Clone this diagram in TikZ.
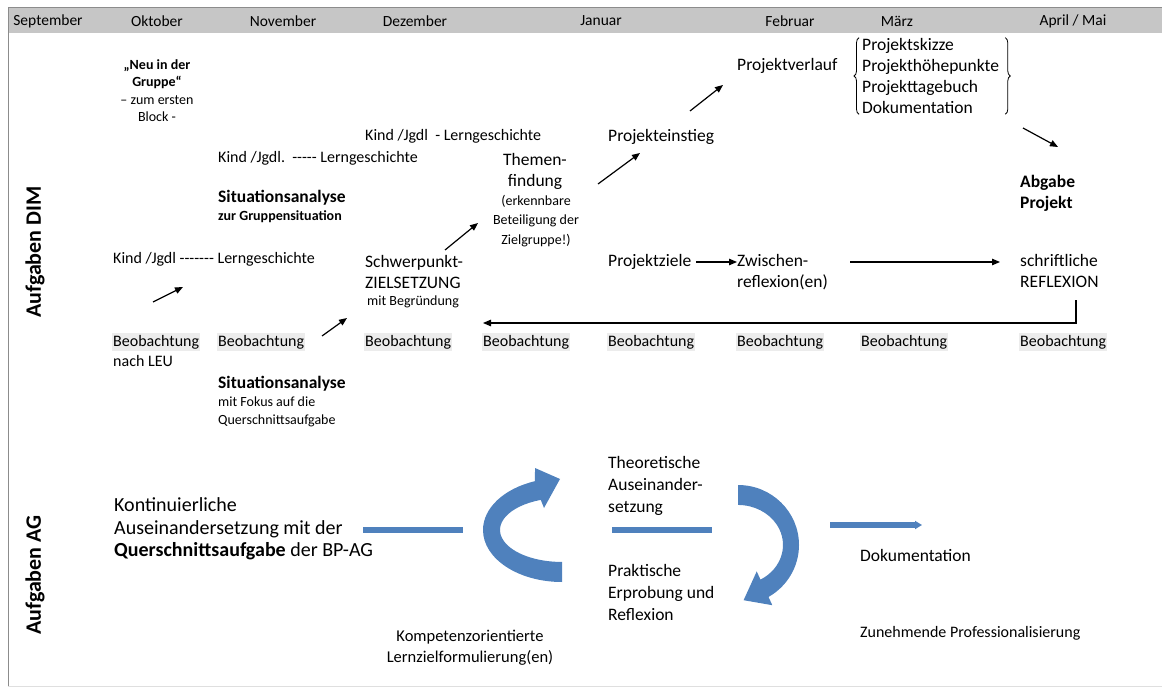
\documentclass[tikz,border=0pt]{standalone}
\usepackage{fontspec}
\setmainfont{Carlito}
\usetikzlibrary{arrows.meta,decorations.pathreplacing}
\definecolor{agblue}{RGB}{79,129,189}
\newcommand\fsmall{\fontsize{14}{17.5}\selectfont}
\newcommand\fnorm{\fontsize{16}{20}\selectfont}
\newcommand\flarge{\fontsize{17.5}{21.3}\selectfont}

\begin{document}
\begin{tikzpicture}[x=1pt,y=-1pt,
    txt/.style={anchor=west, inner sep=0pt, align=left, font=\fnorm},
    txtL/.style={txt, font=\flarge},
    txtS/.style={txt, font=\fsmall},
    obs/.style={anchor=west, fill=gray!15, inner xsep=1pt, inner ysep=2pt, font=\fnorm},
    month/.style={inner sep=0pt, font=\fontsize{15.5}{18}\selectfont},
    lane/.style={rotate=90, inner sep=0pt, font=\fontsize{22}{26}\selectfont\bfseries},
    arr/.style={line width=1.2pt, -{Triangle[length=8pt,width=6.5pt]}},
    bar/.style={agblue, line width=5.5pt},
    brc/.style={line width=0.8pt, decorate, decoration={brace, amplitude=5pt}}]
    \useasboundingbox (0,0) rectangle (1162,695);

    % Frame and month bar
    \fill[gray!45] (8,8) rectangle (1162,33);
    \draw[black!45, line width=1pt] (1162,8) -- (8,8) -- (8,686);
    \draw[gray!25] (8,686) -- (1162,686);
    \foreach \x/\m [count=\i] in {48/September,157/Oktober,283/November,415/Dezember,
        601/Januar,790/Februar,897/März,1073/{April / Mai}} {
        \node[month] (m\i) at (\x,21) {\m};
    }

    % Lanes
    \node[lane] (dim) at (35,252) {Aufgaben DIM};
    \node[lane] (ag) at (35,575) {Aufgaben AG};

    % Aufgaben DIM
    \node[txtS, anchor=north, align=center] (neu) at (157,59)
        {\textbf{„Neu in der}\\\textbf{Gruppe“}\\– zum ersten\\Block -};
    \node[txt] (kj1) at (365,136) {Kind /Jgdl\ \ - Lerngeschichte};
    \node[txt] (kj2) at (218,158) {Kind /Jgdl.\ \ -{}-{}-{}-{}- Lerngeschichte};
    \node[txtL, font=\flarge\bfseries] (sa1) at (218,198) {Situationsanalyse};
    \node[txtS, font=\fsmall\bfseries] (sa1b) at (218,217) {zur Gruppensituation};
    \node[txt] (kj3) at (113,259) {Kind /Jgdl\ -{}-{}-{}-{}-{}-{}- Lerngeschichte};

    \node[txtL, anchor=north, align=center] (thm) at (535,152.7) {Themen-\\findung};
    \node[txtS, anchor=north, align=center, font=\fontsize{14}{19.5}\selectfont] (thmb) at (536,195)
        {(erkennbare\\Beteiligung der\\Zielgruppe!)};
    \node[txtL, anchor=north west] (schw) at (365,254.7) {Schwerpunkt-\\ZIELSETZUNG};
    \node[txtS] (schwb) at (367,302) {mit Begründung};

    \node[txtL] (pe) at (608,137) {Projekteinstieg};
    \node[txtL] (pv) at (737,66) {Projektverlauf};
    \node[txtL, anchor=north west] (lst) at (862,37.7)
        {Projektskizze\\Projekthöhepunkte\\Projekttagebuch\\Dokumentation};
    \draw[brc] ([xshift=-3pt]lst.south west) -- ([xshift=-3pt]lst.north west);
    \draw[brc] ([xshift=6pt]lst.north east) -- ([xshift=6pt]lst.south east);
    \node[txtL, anchor=north west, font=\flarge\bfseries] (abg) at (1020,174.7) {Abgabe\\Projekt};

    \node[txtL] (pz) at (608,262) {Projektziele};
    \node[txtL, anchor=north west] (zw) at (737,253.7) {Zwischen-\\reflexion(en)};
    \node[txtL, anchor=north west] (sr) at (1020,253.7) {schriftliche\\REFLEXION};

    % Beobachtung row
    \foreach \x [count=\i] in {113,218,365,483,608,737,861,1020} {
        \node[obs] (b\i) at (\x-1,342) {Beobachtung};
    }
    \node[txt] (leu) at (113,361) {nach LEU};
    \node[txtL, font=\flarge\bfseries] (sa2) at (218,384) {Situationsanalyse};
    \node[txtS, anchor=north west] (sa2b) at (218,397) {mit Fokus auf die\\Querschnittsaufgabe};

    % Arrows
    \coordinate (a1s) at (153,302); \coordinate (a1e) at (183,287);
    \coordinate (a2s) at (322,336); \coordinate (a2e) at (347,318);
    \coordinate (a3s) at (445,250); \coordinate (a3e) at (478,223);
    \coordinate (a4s) at (598,184); \coordinate (a4e) at (640,153);
    \coordinate (a5s) at (690,111); \coordinate (a5e) at (723,85);
    \coordinate (a6s) at (1023,128); \coordinate (a6e) at (1058,147);
    \foreach \n in {1,...,6} {
        \draw[arr] (a\n s) -- (a\n e);
    }
    \draw[arr] ([xshift=5pt]pz.east) -- (zw.west |- pz.east);
    \draw[arr, shorten <=22pt, shorten >=20pt] (zw.east |- pz.east) -- (sr.west |- pz.east);
    \coordinate (retS) at (1076,300);
    \coordinate (retE) at (483,323);
    \draw[arr] (retS) |- (retE);

    % Aufgaben AG
    \node[txt, anchor=north west, font=\fontsize{20}{22.5}\selectfont] (kont) at (114,497.5)
        {Kontinuierliche\\Auseinandersetzung mit der\\\textbf{Querschnittsaufgabe} der BP-AG};
    \node[txtL, anchor=north west, font=\fontsize{17.5}{22}\selectfont] (theo) at (608,456.5)
        {Theoretische\\Auseinander-\\setzung};
    \node[txtL, anchor=north west, font=\fontsize{17.5}{22}\selectfont] (prak) at (608,564.5)
        {Praktische\\Erprobung und\\Reflexion};
    \node[txtL] (doku) at (860,555) {Dokumentation};
    \node[txt] (zun) at (860,633) {Zunehmende Professionalisierung};
    \node[txt, anchor=north, align=center, font=\fontsize{16.5}{21}\selectfont] (komp) at (470,630)
        {Kompetenzorientierte\\Lernzielformulierung(en)};

    % Blue bars and curved arrows
    \draw[bar] (363,530) -- (463,530);
    \draw[bar] (612,530) -- (712,530);
    \draw[bar, -{Triangle[length=7pt,width=8pt]}] (830,525) -- (922,525);
    \fill[agblue] (562,582) arc[start angle=90, end angle=250, x radius=79, y radius=52]
        -- (535,468) -- (560,479) -- (544,508) -- (540.8,499.9)
        arc[start angle=250, end angle=90, x radius=62, y radius=32] -- cycle;
    \fill[agblue] (738,485) arc[start angle=270, end angle=420, x radius=61, y radius=60]
        -- (772.3,605.2) -- (743.6,600.2) -- (756.7,571.4) -- (760.5,579.6)
        arc[start angle=420, end angle=270, x radius=45, y radius=40] -- cycle;
\end{tikzpicture}
\end{document}
